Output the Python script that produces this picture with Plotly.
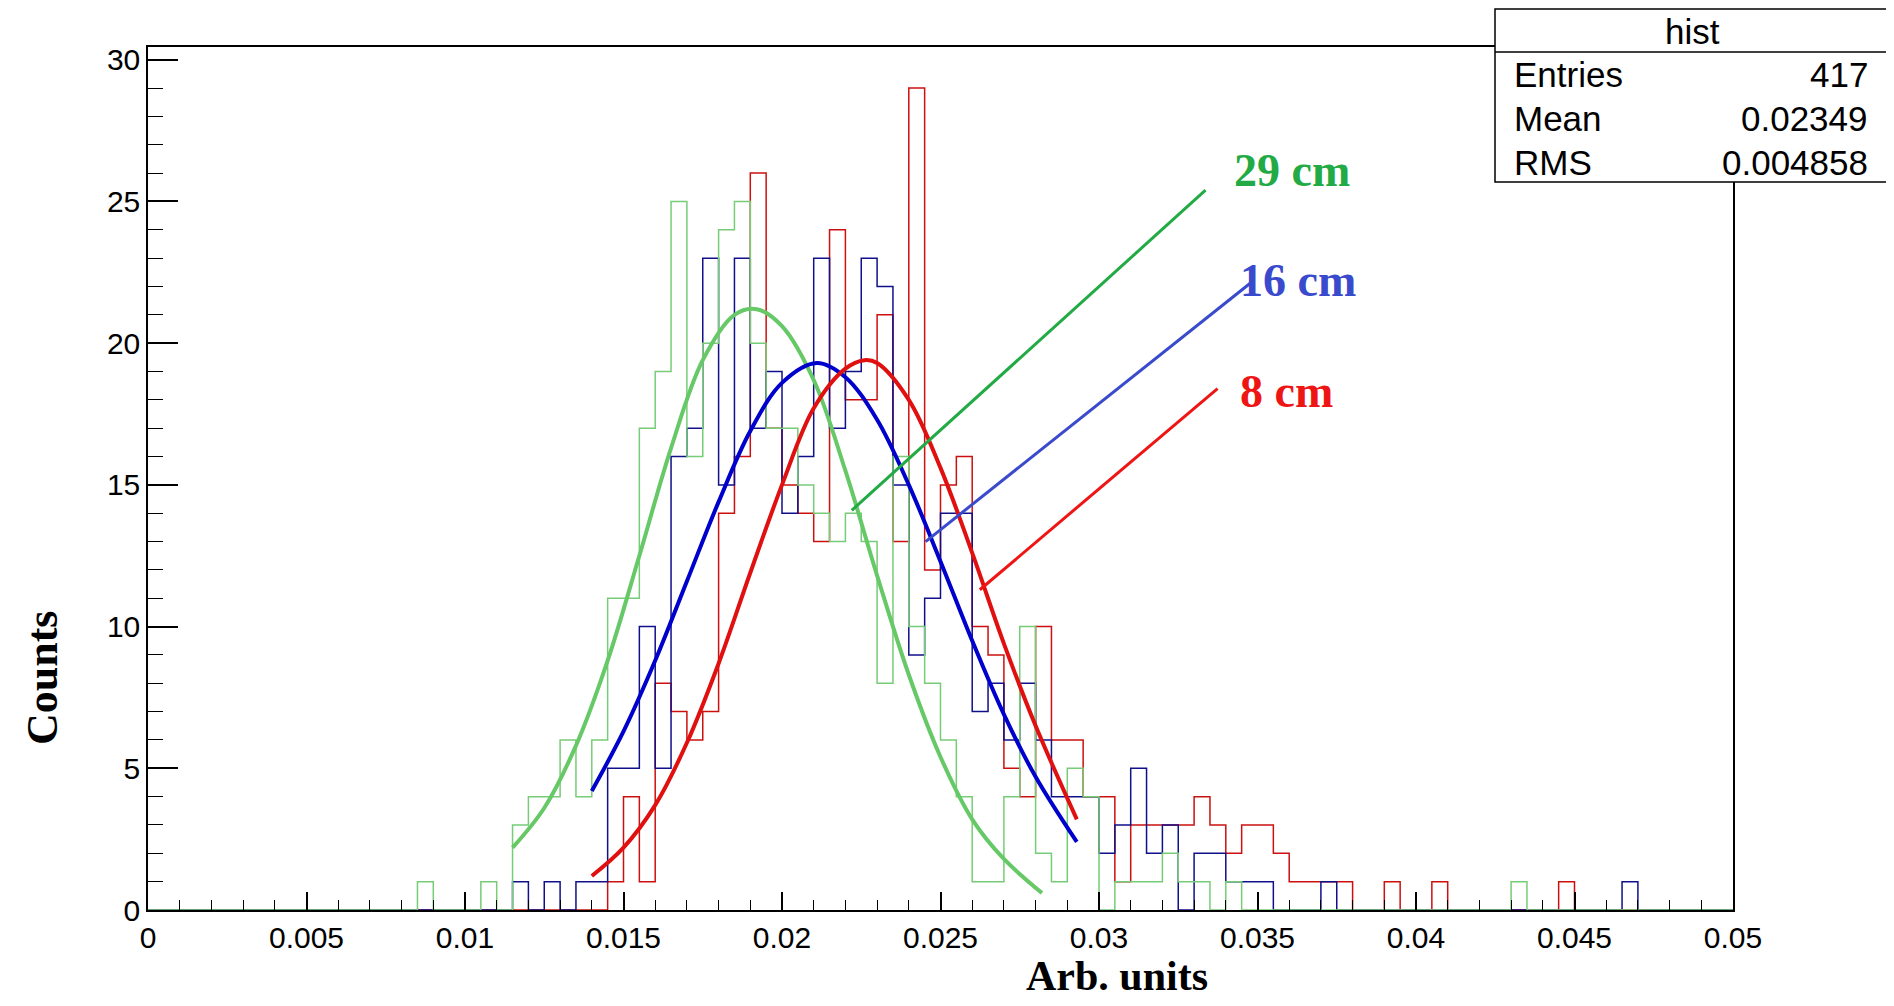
import numpy as np
import plotly.graph_objects as go

# ---------------- data ----------------
n_bins = 100
x_min, x_max = 0.0, 0.05

# counts per bin (bin width 0.0005), index = bin number
red_counts = [0]*100
for i, v in {29: 1, 30: 4, 31: 1, 32: 8, 33: 7, 34: 6, 35: 7, 36: 14, 37: 16, 38: 26,
             39: 17, 40: 15, 41: 14, 42: 13, 43: 24, 44: 18, 45: 18, 46: 21, 47: 13, 48: 29,
             49: 12, 50: 15, 51: 16, 52: 10, 53: 9, 54: 5, 55: 4, 56: 10, 57: 6, 58: 6,
             59: 4, 60: 4, 61: 1, 62: 3, 63: 3, 64: 3, 65: 3, 66: 4, 67: 3, 68: 2, 69: 3,
             70: 3, 71: 2, 72: 1, 73: 1, 74: 1, 75: 1, 78: 1, 81: 1, 89: 1}.items():
    red_counts[i] = v

blue_counts = [0]*100
for i, v in {23: 1, 25: 1, 27: 1, 28: 1, 29: 5, 30: 5, 31: 10, 32: 5, 33: 16, 34: 17,
             35: 23, 36: 15, 37: 23, 38: 17, 39: 19, 40: 14, 41: 16, 42: 23, 43: 17, 44: 19,
             45: 23, 46: 22, 47: 15, 48: 9, 49: 11, 50: 14, 51: 14, 52: 7, 53: 8, 54: 6,
             55: 8, 56: 6, 57: 4, 58: 4, 59: 4, 60: 2, 61: 3, 62: 5, 63: 2, 64: 3, 66: 2,
             67: 2, 68: 1, 69: 1, 70: 1, 74: 1, 93: 1}.items():
    blue_counts[i] = v

green_counts = [0]*100
for i, v in {17: 1, 21: 1, 23: 3, 24: 4, 25: 4, 26: 6, 27: 4, 28: 6, 29: 11, 30: 11,
             31: 17, 32: 19, 33: 25, 34: 16, 35: 20, 36: 24, 37: 25, 38: 20, 39: 17, 40: 17,
             41: 15, 42: 14, 43: 13, 44: 14, 45: 13, 46: 8, 47: 16, 48: 10, 49: 8, 50: 6,
             51: 4, 52: 1, 53: 1, 54: 4, 55: 10, 56: 2, 57: 1, 58: 5, 59: 4, 61: 1, 62: 1,
             63: 1, 64: 2, 65: 1, 66: 1, 68: 1, 86: 1}.items():
    green_counts[i] = v

# fitted gaussian curves
green_fit_x = [0.0115, 0.0125, 0.0135, 0.0145, 0.0155, 0.0165, 0.0175, 0.0185, 0.0192,
               0.0200, 0.0210, 0.0220, 0.0230, 0.0240, 0.0250, 0.0260, 0.0270, 0.0282]
green_fit_y = [2.2, 3.6, 5.8, 8.8, 12.5, 16.3, 19.4, 21.0, 21.2,
               20.6, 18.7, 15.5, 11.8, 8.3, 5.4, 3.2, 1.8, 0.6]
blue_fit_x = [0.0140, 0.0150, 0.0160, 0.0170, 0.0180, 0.0190, 0.0200, 0.0211, 0.0220,
              0.0230, 0.0240, 0.0250, 0.0260, 0.0270, 0.0280, 0.0293]
blue_fit_y = [4.2, 6.3, 8.8, 11.6, 14.4, 16.9, 18.6, 19.3, 18.8,
              17.3, 15.0, 12.3, 9.5, 6.9, 4.7, 2.4]
red_fit_x = [0.0140, 0.0150, 0.0160, 0.0170, 0.0180, 0.0190, 0.0200, 0.0210, 0.0220,
             0.0226, 0.0230, 0.0240, 0.0250, 0.0260, 0.0270, 0.0280, 0.0293]
red_fit_y = [1.2, 2.2, 3.7, 5.9, 8.7, 11.9, 15.0, 17.7, 19.1,
             19.4, 19.3, 18.0, 15.6, 12.6, 9.4, 6.5, 3.2]

# label lines and labels
label_texts = ["29 cm", "16 cm", "8 cm"]
label_colors = ["#22aa44", "#3a4acc", "#ee1515"]
label_line_x0 = [0.02220, 0.02453, 0.02624]
label_line_y0 = [14.1, 13.0, 11.3]
label_line_x1 = [0.03336, 0.03481, 0.03374]
label_line_y1 = [25.4, 22.15, 18.4]
label_text_x = [0.0342, 0.03438, 0.03438]
label_text_y = [26.1, 22.2, 18.3]

stats_title = "hist"
stats_names = ["Entries", "Mean", "RMS"]
stats_values = ["417", "0.02349", "0.004858"]

x_tick_vals = [0, 0.005, 0.01, 0.015, 0.02, 0.025, 0.03, 0.035, 0.04, 0.045, 0.05]
x_tick_text = ["0", "0.005", "0.01", "0.015", "0.02", "0.025", "0.03", "0.035", "0.04", "0.045", "0.05"]
y_tick_vals = [0, 5, 10, 15, 20, 25, 30]

# ---------------- figure ----------------
edges = np.linspace(x_min, x_max, n_bins + 1)


def step_xy(counts):
    xs = list(edges)
    ys = list(counts) + [counts[-1]]
    return xs, ys


fig = go.Figure()
hist_styles = [(red_counts, "#cc1010"), (blue_counts, "#10108a"), (green_counts, "#77cc77")]
for counts, col in hist_styles:
    xs, ys = step_xy(counts)
    fig.add_trace(go.Scatter(x=xs, y=ys, mode="lines", line=dict(color=col, width=1.5, shape="hv"),
                             hoverinfo="skip", showlegend=False))

for fx, fy, col in [(green_fit_x, green_fit_y, "#66c866"),
                    (blue_fit_x, blue_fit_y, "#0000cc"),
                    (red_fit_x, red_fit_y, "#e01010")]:
    fig.add_trace(go.Scatter(x=fx, y=fy, mode="lines", line=dict(color=col, width=4, shape="spline"),
                             hoverinfo="skip", showlegend=False))

for i in range(3):
    fig.add_trace(go.Scatter(x=[label_line_x0[i], label_line_x1[i]], y=[label_line_y0[i], label_line_y1[i]],
                             mode="lines", line=dict(color=label_colors[i], width=3),
                             hoverinfo="skip", showlegend=False))
    fig.add_annotation(x=label_text_x[i], y=label_text_y[i], text="<b>%s</b>" % label_texts[i],
                       showarrow=False, xanchor="left", yanchor="middle",
                       font=dict(family="Liberation Serif", size=46, color=label_colors[i]))

# plot-area geometry (page pixels)
PL, PR, PT, PB = 148, 1733, 47, 910


def px(x):
    return (x - PL) / (PR - PL)


def py(y):
    return (PB - y) / (PB - PT)


# stats box
fig.add_shape(type="rect", xref="paper", yref="paper", x0=px(1495), x1=px(1890), y0=py(182), y1=py(9),
              line=dict(color="black", width=1.5), fillcolor="white", layer="above")
fig.add_shape(type="line", xref="paper", yref="paper", x0=px(1495), x1=px(1890), y0=py(52), y1=py(52),
              line=dict(color="black", width=1.5), layer="above")
sfont = dict(family="Liberation Sans", size=35, color="black")
fig.add_annotation(xref="paper", yref="paper", x=px(1692), y=py(31), text=stats_title, showarrow=False,
                   xanchor="center", yanchor="middle", font=sfont)
for k, (nm, val) in enumerate(zip(stats_names, stats_values)):
    yy = py([75, 118, 162][k])
    fig.add_annotation(xref="paper", yref="paper", x=px(1512), y=yy, text=nm, showarrow=False,
                       xanchor="left", yanchor="middle", font=sfont)
    fig.add_annotation(xref="paper", yref="paper", x=px(1870), y=yy, text=val, showarrow=False,
                       xanchor="right", yanchor="middle", font=sfont)

# axis titles
fig.add_annotation(xref="paper", yref="paper", x=px(1117), y=py(976), text="<b>Arb. units</b>",
                   showarrow=False, xanchor="center", yanchor="middle",
                   font=dict(family="Liberation Serif", size=42, color="black"))
fig.add_annotation(xref="paper", yref="paper", x=px(42), y=py(678), text="<b>Counts</b>",
                   showarrow=False, xanchor="center", yanchor="middle", textangle=-90,
                   font=dict(family="Liberation Serif", size=44, color="black"))

tick_font = dict(family="Liberation Sans", size=30, color="black")
fig.update_xaxes(range=[x_min, x_max], tickmode="array", tickvals=x_tick_vals, ticktext=x_tick_text,
                 ticks="inside", ticklen=18, tickwidth=1.5, tickcolor="black",
                 minor=dict(ticks="inside", ticklen=10, dtick=0.001, tick0=0, tickcolor="black", tickwidth=1.2),
                 showline=True, linecolor="black", linewidth=1.5, mirror=True,
                 showgrid=False, zeroline=False, tickfont=tick_font)
fig.update_yaxes(range=[0, 30.45], tickmode="array", tickvals=y_tick_vals,
                 ticks="inside", ticklen=30, tickwidth=1.5, tickcolor="black",
                 minor=dict(ticks="inside", ticklen=15, dtick=1, tick0=0, tickcolor="black", tickwidth=1.2),
                 showline=True, linecolor="black", linewidth=1.5, mirror=True,
                 showgrid=False, zeroline=False, tickfont=tick_font)

fig.update_layout(width=1878, height=990, autosize=False,
                  margin=dict(l=PL - 8, r=1878 - (PR - 8), t=PT - 8, b=990 - (PB - 8)),
                  plot_bgcolor="white", paper_bgcolor="white", showlegend=False)

fig.write_html("out.html")
